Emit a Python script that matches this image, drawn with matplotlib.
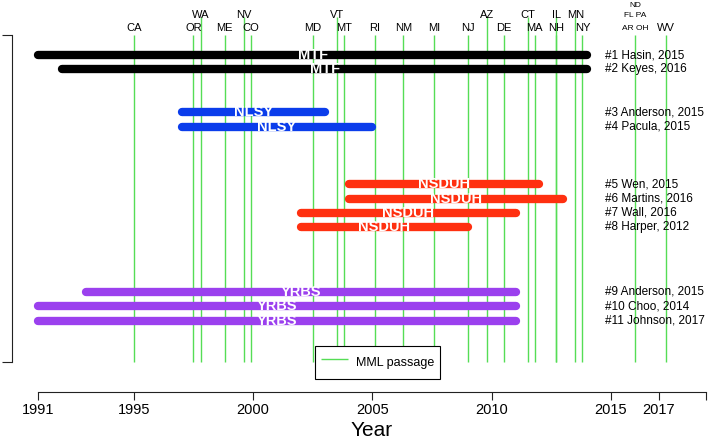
import matplotlib
matplotlib.use("Agg")
import matplotlib.pyplot as plt

plt.rcParams['font.family'] = ['Liberation Sans', 'DejaVu Sans']

# studies (one bar each)
study_labels = ["#1 Hasin, 2015", "#2 Keyes, 2016", "#3 Anderson, 2015", "#4 Pacula, 2015",
                "#5 Wen, 2015", "#6 Martins, 2016", "#7 Wall, 2016", "#8 Harper, 2012",
                "#9 Anderson, 2015", "#10 Choo, 2014", "#11 Johnson, 2017"]
surveys = ["MTF", "MTF", "NLSY", "NLSY", "NSDUH", "NSDUH", "NSDUH", "NSDUH", "YRBS", "YRBS", "YRBS"]
start_year = [1991, 1992, 1997, 1997, 2004, 2004, 2002, 2002, 1993, 1991, 1991]
end_year = [2014, 2014, 2003, 2005, 2012, 2013, 2011, 2009, 2011, 2011, 2011]
rows = [1, 2, 5, 6, 10, 11, 12, 13, 17.5, 18.5, 19.5]

survey_colors = {"MTF": "#000000", "NLSY": "#0b3deb", "NSDUH": "#ff3010", "YRBS": "#9b40ee"}

# medical marijuana law passage
states = ["CA", "OR", "WA", "ME", "NV", "CO", "MD", "VT", "MT", "RI", "NM", "MI", "NJ", "AZ",
          "DE", "CT", "MA", "NH", "IL", "MN", "NY", "WV"]
state_year = [1995.0, 1997.5, 1997.8, 1998.8, 1999.6, 1999.9, 2002.5, 2003.5, 2003.8, 2005.1,
              2006.3, 2007.6, 2009.0, 2009.8, 2010.5, 2011.5, 2011.8, 2012.7, 2012.7, 2013.5,
              2013.8, 2017.3]
label_tier = [1, 1, 2, 1, 2, 1, 1, 2, 1, 1, 1, 1, 1, 2, 1, 2, 1, 1, 2, 2, 1, 1]
group_labels = ["AR OH", "FL PA", "ND"]
group_year = 2016.0

year_ticks = [1991, 1995, 2000, 2005, 2010, 2015, 2017, 2019]
year_ticklabels = ["1991", "1995", "2000", "2005", "2010", "2015", "2017", ""]

fig = plt.figure(figsize=(7.09, 4.41), dpi=100)
ax = fig.add_axes([12 / 709, 49 / 441, 697 / 709, 362 / 441])
ax.set_xlim(1989.894, 2019.105)
ax.set_ylim(24.48, -0.742)

tier_text_y = {1: -0.88, 2: -1.80, 3: -2.45}
tier_line_top = {1: -0.394, 2: -1.65}
line_bottom = 22.39

all_years = state_year + [group_year]
tops = [tier_line_top[t] for t in label_tier] + [tier_line_top[1]]
ax.vlines(all_years, tops, line_bottom, colors="#55dd55", linewidth=1.0,
          clip_on=False, zorder=1, label="MML passage")

for name, yr, t in zip(states, state_year, label_tier):
    ax.text(yr, tier_text_y[t], name, ha="center", va="center", fontsize=8, clip_on=False)
for i, name in enumerate(group_labels):
    ax.text(group_year, tier_text_y[i + 1] + (0.05 if i == 1 else 0), name, ha="center",
            va="center", fontsize=6, clip_on=False)

for lab, sv, s, e, r in zip(study_labels, surveys, start_year, end_year, rows):
    ax.plot([s, e], [r, r], color=survey_colors[sv], linewidth=6.0,
            solid_capstyle="round", zorder=2)
    ax.text((s + e) / 2, r, sv, color="white", fontweight="bold", fontsize=10.5,
            ha="center", va="center", zorder=3)
    ax.text(2014.75, r, lab, ha="left", va="center", fontsize=8.5)

for sp in ["top", "right"]:
    ax.spines[sp].set_visible(False)
ax.spines["bottom"].set_bounds(1991, 2019)
ax.spines["left"].set_bounds(-0.394, line_bottom)
ax.spines["bottom"].set_linewidth(0.8)
ax.spines["left"].set_linewidth(0.8)
ax.spines["bottom"].set_color("#222222")
ax.spines["left"].set_color("#222222")

ax.set_xticks(year_ticks)
ax.set_xticklabels(year_ticklabels, fontsize=10.5)
ax.tick_params(axis="x", length=6, width=0.8, pad=2, color="#222222")
ax.set_yticks([-0.394, line_bottom])
ax.set_yticklabels(["", ""])
ax.tick_params(axis="y", length=7, width=0.8, color="#222222")

ax.set_xlabel("Year", fontsize=15)
ax.xaxis.label.set_va("center")
ax.xaxis.set_label_coords((371.5 - 12) / 697, (392 - 430) / 362)

leg = ax.legend(loc="center", bbox_to_anchor=(377.5 / 709, (441 - 362.5) / 441),
                bbox_transform=fig.transFigure, fontsize=9, fancybox=False,
                framealpha=1, edgecolor="black", handlelength=2.2, handleheight=2.2,
                handletextpad=0.6, borderpad=0.5)
leg.get_frame().set_linewidth(0.8)

fig.savefig("out.png", dpi=100)
